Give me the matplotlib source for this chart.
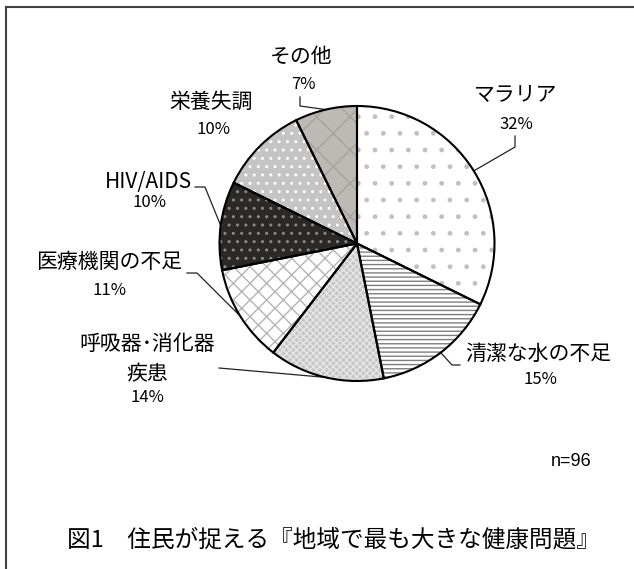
import numpy as np
import matplotlib
matplotlib.use("Agg")
import matplotlib.pyplot as plt
from matplotlib.patches import Wedge
from matplotlib.lines import Line2D

plt.rcParams["font.family"] = ["Noto Sans CJK JP", "DejaVu Sans"]
plt.rcParams["hatch.linewidth"] = 1.0

# データ（n=96 の回答数）
labels = ["マラリア", "清潔な水の不足", "呼吸器･消化器\n疾患", "医療機関の不足",
          "HIV/AIDS", "栄養失調", "その他"]
counts = [31, 14, 13, 11, 10, 10, 7]
n_total = 96
caption = "図1　住民が捉える『地域で最も大きな健康問題』"

# 塗りとハッチ
faces = ["white", "white", "#c6c6c6", "white", "#2b2828", "#c4c4c4", "#bdb9b5"]
hatches = [".", "----", "xxxxx", "xx", "..", "..", "x"]
hatch_cols = ["#c0c0c0", "#7e7e7e", "#e6e6e6", "#b4b4b4", "#8a8a8a", "white", "#a6a29e"]

W, H = 634, 569
# ラベル位置（ピクセル座標, 上から）
lab_xy = [(516, 95), (538, 354), (147, 359), (109, 262), (148, 182), (211, 102), (301, 57)]
pct_xy = [(516, 124), (540, 380), (147, 398), (110, 290), (150, 202), (213, 129), (303, 84)]
# 引き出し線の折れ点
lead_pts = [[(515, 136), (515, 147)],
            [(460, 365), (452, 365)],
            [(219, 368)],
            [(187, 273), (197, 273)],
            [(195, 187), (205, 187)],
            None,
            [(300, 97), (300, 106)]]

fig = plt.figure(figsize=(W / 100, H / 100), dpi=100)
ax = fig.add_axes([0, 0, 1, 1])

cx, cy, r = 357, H - 243.5, 137.5
wedges, _ = ax.pie(counts, startangle=90, counterclock=False, colors=faces,
                   hatch=hatches, center=(cx, cy), radius=r,
                   wedgeprops=dict(linewidth=0))
for w, hc in zip(wedges, hatch_cols):
    w.set_edgecolor(hc)

# 輪郭
for w in wedges:
    ax.add_patch(Wedge(w.center, w.r, w.theta1, w.theta2, fill=False,
                       edgecolor="black", linewidth=1.5, zorder=3))

# ラベル
for i, (lab, c) in enumerate(zip(labels, counts)):
    pct = "{}%".format(int(round(c / n_total * 100)))
    lx, ly = lab_xy[i]
    px, py = pct_xy[i]
    ax.text(lx, H - ly, lab, ha="center", va="center", fontsize=15,
            linespacing=1.45)
    ax.text(px, H - py, pct, ha="center", va="center", fontsize=12)
    pts = lead_pts[i]
    if pts is None:
        continue
    w = wedges[i]
    mid = np.deg2rad((w.theta1 + w.theta2) / 2)
    ex = cx + r * np.cos(mid)
    ey = cy + r * np.sin(mid)
    xs = [p[0] for p in pts] + [ex]
    ys = [H - p[1] for p in pts] + [ey]
    ax.plot(xs, ys, color="#222222", linewidth=0.9, zorder=2)

ax.text(571, H - 461, "n={}".format(n_total), ha="center", va="center",
        fontsize=13, family="Liberation Sans")
ax.text(333, H - 540, caption, ha="center", va="center", fontsize=17)

ax.set_xlim(0, W)
ax.set_ylim(0, H)
ax.set_aspect("equal")
ax.axis("off")

# 外枠（上と左）
fig.add_artist(Line2D([6 / W, 1], [1 - 7 / H, 1 - 7 / H], color="#404040", linewidth=1.5))
fig.add_artist(Line2D([6 / W, 6 / W], [0, 1 - 7 / H], color="#404040", linewidth=1.5))

fig.savefig("out.png", dpi=100)
